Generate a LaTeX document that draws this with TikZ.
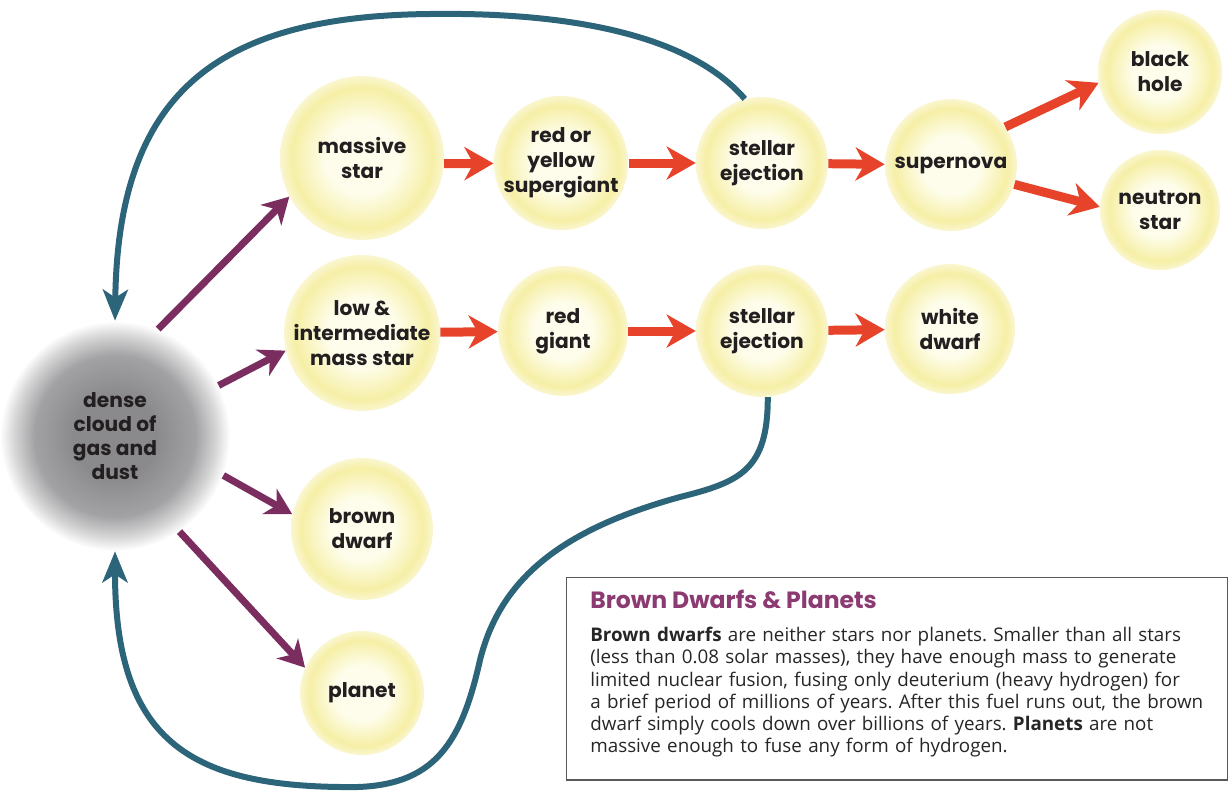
\documentclass[tikz,border=0pt]{standalone}
\usepackage{fontspec}
\setmainfont{Open Sans}
\newfontfamily\labelfont{Poppins}
\usetikzlibrary{arrows.meta}
\definecolor{starCore}{HTML}{FEFDEB}
\definecolor{starRim}{HTML}{F6EFA6}
\definecolor{starEdge}{HTML}{FAF6D0}
\definecolor{cloudCore}{HTML}{8A8A8C}
\definecolor{cloudMid}{HTML}{A2A2A4}
\definecolor{cloudOut}{HTML}{D6D6D7}
\definecolor{labelInk}{HTML}{231F20}
\definecolor{plumArrow}{HTML}{7B2D60}
\definecolor{redArrow}{HTML}{E6432A}
\definecolor{loopBlue}{HTML}{2C6479}
\definecolor{boxTitle}{HTML}{8C3A72}

\pgfdeclareradialshading{starglow}{\pgfpoint{0bp}{0bp}}{color(0bp)=(starCore); color(11bp)=(starCore); color(21.5bp)=(starRim); color(25bp)=(starEdge); color(50bp)=(starEdge)}
\pgfdeclareradialshading{cloudhaze}{\pgfpoint{0bp}{0bp}}{color(0bp)=(cloudCore); color(9bp)=(cloudCore); color(17.5bp)=(cloudMid); color(22bp)=(cloudOut); color(25bp)=(white); color(50bp)=(white)}

\tikzset{
  stage/.style={circle, shading=starglow, minimum size=#1, inner sep=0pt,
    align=center, text=labelInk, font=\labelfont\bfseries\fontsize{11.5}{14.2}\selectfont},
  stage/.default=2.6cm,
  cloudnode/.style={circle, shading=cloudhaze, minimum size=4.6cm, inner sep=0pt,
    align=center, text=labelInk, font=\labelfont\bfseries\fontsize{11.5}{13.6}\selectfont},
  stageArrow/.style={redArrow, line width=0.18cm, -{Stealth[length=0.58cm, width=0.66cm, inset=0.18cm]}},
  growArrow/.style={plumArrow, line width=0.14cm, -{Stealth[length=0.52cm, width=0.58cm, inset=0.16cm]}},
  recycleLoop/.style={loopBlue, line width=0.12cm, -{Stealth[length=0.62cm, width=0.5cm, inset=0.16cm]}},
  infobox/.style={draw=black!65, line width=0.6pt, minimum width=13.24cm, minimum height=4.06cm},
  boxhead/.style={inner sep=0pt, text=boxTitle, font=\labelfont\bfseries\fontsize{13.4}{16}\selectfont},
  boxbody/.style={inner sep=0pt, align=left, text width=12.6cm, text=black!85, font=\frenchspacing\fontsize{10.7}{12.65}\selectfont}
}

\begin{document}
\begin{tikzpicture}[x=0.02cm, y=-0.02cm]
  \useasboundingbox (0,0) rectangle (1232,792);
  % the cloud and the stages
  \node[cloudnode] (cloud) at (115,436) {dense\\cloud of\\gas and\\dust};
  \node[stage=3.28cm] (massive) at (362,158) {massive\\star};
  \node[stage=2.6cm] (supergiant) at (561,163) {red or\\yellow\\supergiant};
  \node[stage=2.64cm] (ejectA) at (762,163) {stellar\\ejection};
  \node[stage=2.64cm] (supernova) at (951,165) {supernova};
  \node[stage=2.48cm] (blackhole) at (1160,72) {black\\hole};
  \node[stage=2.4cm] (neutron) at (1160,210) {neutron\\star};
  \node[stage=3.12cm] (lowmass) at (362,333) {low \&\\intermediate\\mass star};
  \node[stage=2.6cm] (redgiant) at (563,331) {red\\giant};
  \node[stage=2.64cm] (ejectB) at (762,331) {stellar\\ejection};
  \node[stage=2.6cm] (whitedwarf) at (950,329) {white\\dwarf};
  \node[stage=2.84cm] (brown) at (362,529) {brown\\dwarf};
  \node[stage=2.48cm] (planet) at (362,693) {planet};
  % red arrows between stages
  \draw[stageArrow] (massive.-4) -- (supergiant);
  \draw[stageArrow] (supergiant) -- (ejectA);
  \draw[stageArrow] (ejectA) -- (supernova);
  \draw[stageArrow] (supernova.35) -- (blackhole.190);
  \draw[stageArrow] (supernova.-17) -- (neutron.177);
  \draw[stageArrow] (lowmass) -- (redgiant);
  \draw[stageArrow] (redgiant) -- (ejectB);
  \draw[stageArrow] (ejectB) -- (whitedwarf);
  % purple arrows out of the cloud
  \draw[growArrow] (cloud.68) -- (massive.208);
  \draw[growArrow] (cloud.26) -- (lowmass.193);
  \draw[growArrow] (cloud.-20) -- (brown.168);
  \draw[growArrow] (cloud.-56) -- (planet.156);
  % blue loops back to the cloud
  \draw[recycleLoop] (ejectA.105) .. controls (690,35) and (570,12) .. (430,14)
    .. controls (220,16) and (118,90) .. (cloud.north);
  \draw[recycleLoop] (ejectB.-85) .. controls (768,470) and (740,482) .. (680,497)
    .. controls (560,530) and (500,580) .. (480,660)
    .. controls (460,750) and (430,790) .. (340,787)
    .. controls (190,785) and (115,740) .. (cloud.south);
  % side box
  \node[infobox] (info) at (897,678.5) {};
  \node[boxhead, anchor=base west] (boxtitle) at (590,608) {Brown Dwarfs \& Planets};
  \node[boxbody, anchor=north west] (boxtext) at (590,627) {\textbf{Brown dwarfs} are neither stars nor planets. Smaller than all stars\\
    (less than 0.08 solar masses), they have enough mass to generate\\
    limited nuclear fusion, fusing only deuterium (heavy hydrogen) for\\
    a brief period of millions of years. After this fuel runs out, the brown\\
    dwarf simply cools down over billions of years. \textbf{Planets} are not\\
    massive enough to fuse any form of hydrogen.};
\end{tikzpicture}
\end{document}
